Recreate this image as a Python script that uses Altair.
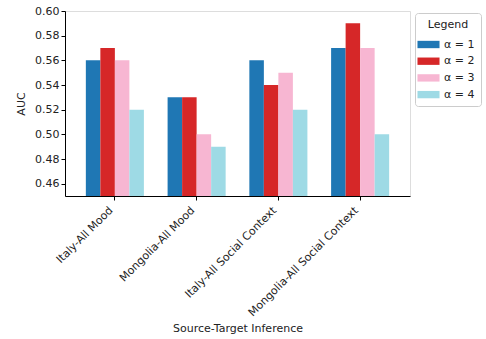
import altair as alt
import pandas as pd

categories = ["Italy-All Mood", "Mongolia-All Mood", "Italy-All Social Context", "Mongolia-All Social Context"]
series = ["α = 1", "α = 2", "α = 3", "α = 4"]
values = {
    "α = 1": [0.56, 0.53, 0.56, 0.57],
    "α = 2": [0.57, 0.53, 0.54, 0.59],
    "α = 3": [0.56, 0.50, 0.55, 0.57],
    "α = 4": [0.52, 0.49, 0.52, 0.50],
}
colors = ["#1f77b4", "#d62728", "#f7b6d2", "#9edae5"]
y_ticks = [0.46, 0.48, 0.50, 0.52, 0.54, 0.56, 0.58, 0.60]

rows = []
for s in series:
    for c, v in zip(categories, values[s]):
        rows.append({"cat": c, "series": s, "auc": v})
df = pd.DataFrame(rows)

font = "DejaVu Sans"

chart = alt.Chart(df).mark_bar(clip=True).encode(
    x=alt.X("cat:N", sort=categories, title="Source-Target Inference",
            scale=alt.Scale(paddingInner=0.29, paddingOuter=0.255),
            axis=alt.Axis(labelAngle=-45, labelAlign="right", labelBaseline="bottom",
                          labelFontSize=11, titleFontSize=11, titleY=126,
                          tickColor="black", domainColor="black", labelColor="#222",
                          titleColor="#222", titleFontWeight="normal", tickSize=4,
                          labelPadding=12, labelLimit=300)),
    xOffset=alt.XOffset("series:N", sort=series),
    y=alt.Y("auc:Q", title="AUC",
            scale=alt.Scale(domain=[0.45, 0.60], zero=False, nice=False),
            axis=alt.Axis(values=y_ticks, format=".2f", grid=False,
                          labelFontSize=11, titleFontSize=11, tickColor="black",
                          domainColor="black", labelColor="#222", titleColor="#222",
                          titleFontWeight="normal", tickSize=4, titlePadding=8)),
    color=alt.Color("series:N", sort=series,
                    scale=alt.Scale(domain=series, range=colors),
                    legend=alt.Legend(title="Legend", orient="none", legendX=350, legendY=2,
                                      titleAnchor="middle", titleFontSize=11,
                                      titleFontWeight="normal", titleColor="#222",
                                      labelFontSize=11, labelColor="#222",
                                      symbolType="M-1.5,-0.5L1.5,-0.5L1.5,0.5L-1.5,0.5Z",
                                      symbolSize=216, symbolStrokeWidth=0,
                                      strokeColor="#cccccc", fillColor="white",
                                      cornerRadius=3, padding=6, rowPadding=3.7,
                                      labelOffset=8, titlePadding=7)),
).properties(
    width=345, height=185,
    autosize=alt.AutoSizeParams(type="none"),
    padding={"left": 65, "top": 11, "right": 76, "bottom": 143},
).configure_view(
    stroke="black", strokeWidth=1
).configure(
    font=font, background="white"
)

chart.save("out.html", embed_options={"renderer": "svg", "actions": False})
